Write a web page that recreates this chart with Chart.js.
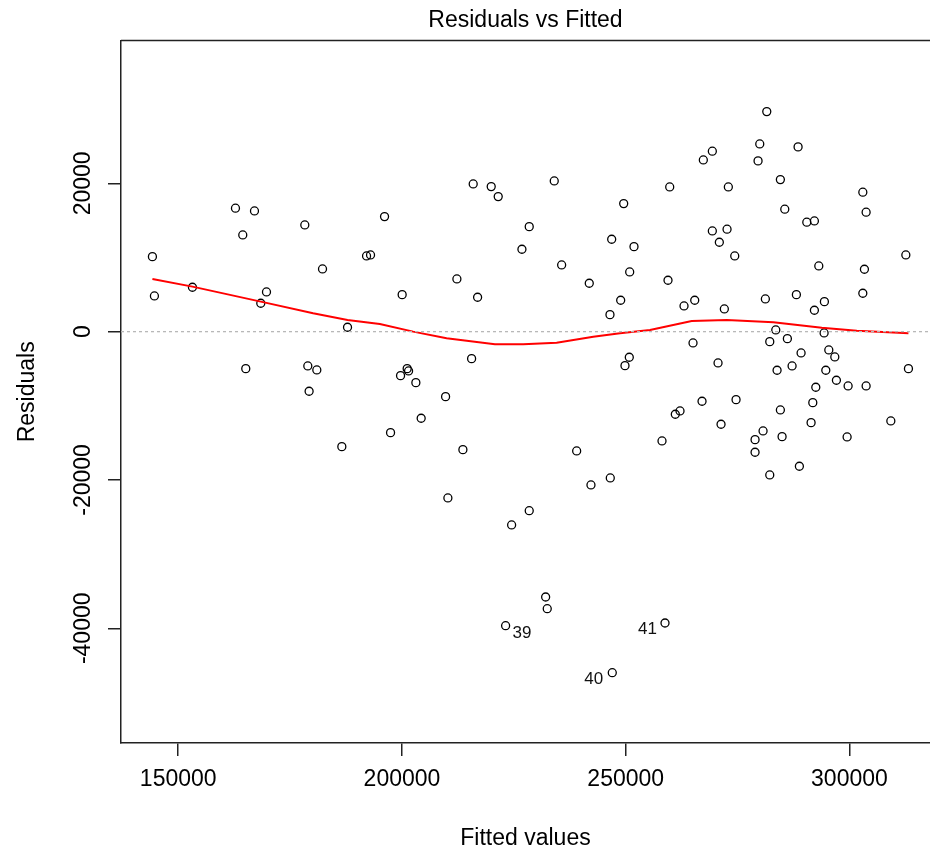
<!DOCTYPE html>
<html><head><meta charset="utf-8">
<script src="https://cdn.jsdelivr.net/npm/chart.js@4.4.1/dist/chart.umd.min.js"></script>
<style>html,body{margin:0;padding:0;background:#fff}canvas{display:block}</style>
</head><body>
<canvas id="c" width="930" height="852"></canvas>
<script>
const fittedValues = [
 144231,162790,167038,164422,178285,196106,192082,192976,182243,
 144678,153175,169722,168447,187833,165093,178956,180969,179247,186559,197448,
 215917,219942,221507,234029,249547,228439,246864,251850,226807,235684,250888,241855,212273,216901,200042,248876,246483,215560,250799,249837,199684,201160,201473,203105,209746,
 204290,213614,210260,239038,242235,246550,228439,224504,232106,232464,223162,246998,258781,258111,
 281522,279956,288520,269358,267345,279576,284562,259832,272935,302987,303725,285546,290466,292165,269358,272645,270923,274366,312602,293149,303345,259452,302987,288140,281208,265422,263030,272041,294401,292165,
 283534,294334,265042,282192,286128,289191,295385,296726,270632,283825,287179,294714,313183,297084,299700,303725,292478,267055,274657,291807,261084,262135,284562,271303,291427,309248,280694,278905,284943,299477,278905,288811,282192
];
const residuals = [
 10115,16642,16278,13041,14390,15509,10209,10344,8456,
 4815,5988,5354,3830,593,-4990,-4626,-5165,-8038,-15509,-13621,
 19919,19555,18206,20323,17262,14160,12461,11463,11112,8995,8051,6527,7107,4639,4990,4235,2293,-3641,-3452,-4585,-5934,-4990,-5300,-6878,-8766,
 -11679,-15913,-22427,-16089,-20674,-19730,-24140,-26068,-35778,-37356,-39649,-45987,-39285,-14740,
 29669,25313,24909,24329,23155,23021,20499,19514,19514,18799,16102,16507,14754,14929,13580,13810,12056,10209,10344,8860,8415,6932,5179,4990,4410,4235,3466,3061,4046,2886,
 229,-175,-1524,-1349,-944,-2873,-2468,-3412,-4221,-5206,-4626,-5206,-4990,-6554,-7323,-7323,-7498,-9386,-9170,-9575,-11139,-10694,-10560,-12488,-12272,-12043,-13392,-14565,-14160,-14201,-16264,-18152,-19325
];
const smoothX = [144231,153175,168447,180141,187833,195055,202501,209970,220769,227097,234566,242749,248719,255427,264752,272578,282997,293820,301646,313183];
const smoothY = [7107,6069,4046,2481,1578,1038,0,-890,-1699,-1699,-1483,-674,-216,229,1443,1578,1268,539,135,-216];
const xTickValues = [150000,200000,250000,300000];
const yTickValues = [-40000,-20000,0,20000];
const labelIds = ['39','40','41'];
const labelFitted = [223162,246998,258781];
const labelResid = [-39649,-45987,-39285];
const X_MIN = 137210, X_MAX = 318000, Y_MIN = -55468, Y_MAX = 39244;

const FONT = '"Liberation Sans", Arial, sans-serif';
const AXIS_COLOR = '#222';

const labelPlugin = {
  id: 'idLabels',
  afterDatasetsDraw(chart) {
    const ctx = chart.ctx, xs = chart.scales.x, ys = chart.scales.y;
    const place = [{align:'left', dx:7, dy:7.5}, {align:'right', dx:-9, dy:6.5}, {align:'right', dx:-8, dy:6}];
    ctx.save();
    ctx.font = '17px ' + FONT;
    ctx.fillStyle = '#111';
    ctx.textBaseline = 'middle';
    labelIds.forEach((t, i) => {
      const px = xs.getPixelForValue(labelFitted[i]);
      const py = ys.getPixelForValue(labelResid[i]);
      ctx.textAlign = place[i].align;
      ctx.fillText(t, px + place[i].dx, py + place[i].dy);
    });
    ctx.restore();
  }
};
const topBorder = {
  id: 'topBorder',
  afterDraw(chart) {
    const {ctx, chartArea: a} = chart;
    ctx.save();
    ctx.strokeStyle = AXIS_COLOR; ctx.lineWidth = 1.5;
    ctx.beginPath(); ctx.moveTo(a.left, a.top); ctx.lineTo(a.right + 2, a.top); ctx.stroke();
    ctx.restore();
  }
};

new Chart(document.getElementById('c'), {
  type: 'scatter',
  data: {
    datasets: [
      { label: 'zero', type: 'line', data: [{x: X_MIN, y: 0}, {x: X_MAX, y: 0}],
        borderColor: '#b8b8b8', borderWidth: 1.3, borderDash: [3, 3], pointRadius: 0, order: 0 },
      { label: 'smooth', type: 'line', data: smoothX.map((x, i) => ({x, y: smoothY[i]})),
        borderColor: '#ff0000', borderWidth: 2, pointRadius: 0, tension: 0, order: 1 },
      { label: 'residuals', data: fittedValues.map((x, i) => ({x, y: residuals[i]})),
        pointStyle: 'circle', pointRadius: 4, borderColor: '#000', borderWidth: 1.3,
        backgroundColor: 'rgba(0,0,0,0)', order: 2 }
    ]
  },
  options: {
    responsive: false, animation: false, devicePixelRatio: 1,
    layout: { autoPadding: false, padding: { left: 0, right: 0, top: 0, bottom: 0 } },
    plugins: {
      legend: { display: false }, tooltip: { enabled: false },
      title: { display: true, text: 'Residuals vs Fitted', fullSize: false, color: '#000',
        font: { family: FONT, size: 23, weight: 'normal' }, padding: { top: 7, bottom: 6 } }
    },
    scales: {
      x: {
        type: 'linear', position: 'bottom', min: X_MIN, max: X_MAX,
        afterBuildTicks: s => { s.ticks = xTickValues.map(v => ({value: v})); },
        afterFit: s => { s.height = 109; },
        grid: { display: true, drawOnChartArea: false, drawTicks: true, tickLength: 13, color: AXIS_COLOR, tickColor: AXIS_COLOR, lineWidth: 1.5 },
        border: { display: true, color: AXIS_COLOR, width: 1.5 },
        ticks: { padding: 10, color: '#000', font: { family: FONT, size: 23 }, maxRotation: 0, autoSkip: false, callback: v => String(v) },
        title: { display: true, text: 'Fitted values', color: '#000', font: { family: FONT, size: 23 }, padding: { top: 0, bottom: 0 } }
      },
      y: {
        type: 'linear', position: 'left', min: Y_MIN, max: Y_MAX,
        afterBuildTicks: s => { s.ticks = yTickValues.map(v => ({value: v})); },
        afterFit: s => { s.width = 121; },
        grid: { display: true, drawOnChartArea: false, drawTicks: true, tickLength: 13, color: AXIS_COLOR, tickColor: AXIS_COLOR, lineWidth: 1.5 },
        border: { display: true, color: AXIS_COLOR, width: 1.5 },
        ticks: { padding: -11, color: '#000', font: { family: FONT, size: 23 }, minRotation: 90, maxRotation: 90, crossAlign: 'center', autoSkip: false, callback: v => String(v) },
        title: { display: true, text: 'Residuals', color: '#000', font: { family: FONT, size: 23 }, padding: { top: 14, bottom: 0 } }
      }
    }
  },
  plugins: [labelPlugin, topBorder]
});
</script>
</body></html>
